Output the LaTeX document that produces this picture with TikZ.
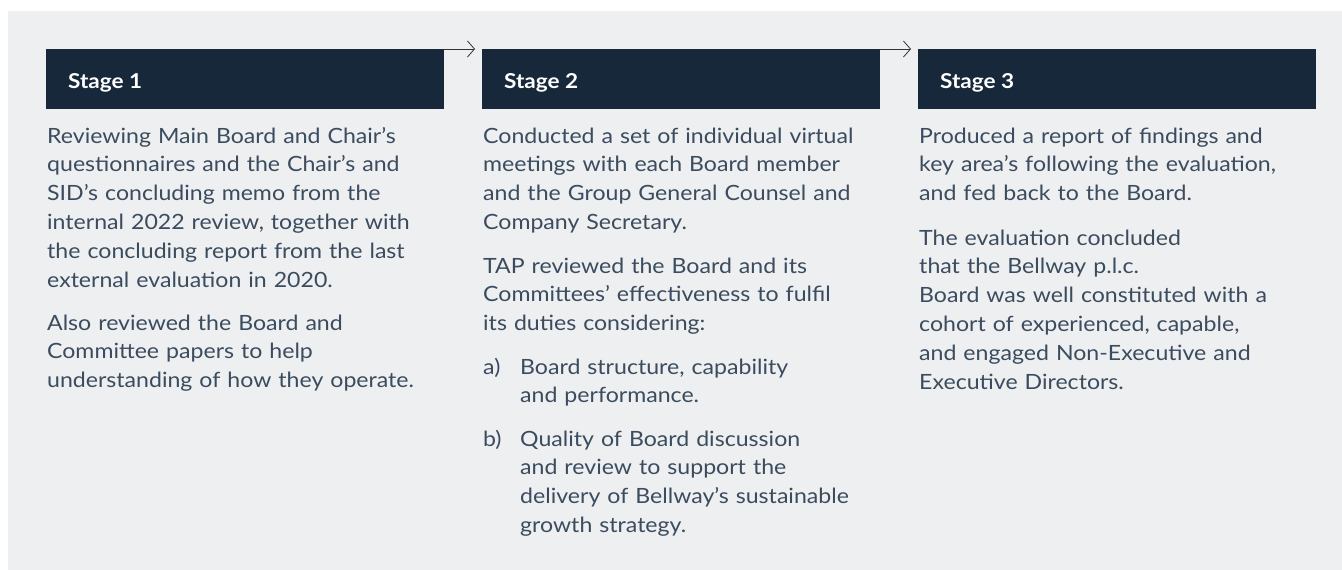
\documentclass[tikz,border=0pt]{standalone}
\usepackage{fontspec}
\setmainfont{Lato}[FakeStretch=1.1]
\usetikzlibrary{arrows.meta}
\definecolor{bgc}{HTML}{EEEFF1}
\definecolor{navy}{HTML}{16283A}
\definecolor{txt}{HTML}{3A4C5E}
\begin{document}
\begin{tikzpicture}[x=1pt,y=-1pt,
  hdr/.style={fill=navy, draw=none, minimum width=398pt, minimum height=60pt, inner sep=0pt, outer sep=0pt, anchor=north west},
  hlabel/.style={text=white, font=\fontsize{20.5}{22}\selectfont\bfseries, anchor=base west, inner sep=0pt},
  body/.style={text=txt, font=\fontsize{21}{28.8}\selectfont, anchor=base west, inner sep=0pt, text width=420pt, align=left},
  item/.style={body, text width=380pt},
  flow/.style={draw=black!80, line width=0.8pt, -{Straight Barb[length=7pt,width=16pt]}}]
\useasboundingbox (0,0) rectangle (1342,570);
\fill[white] (0,0) rectangle (1342,570);
\fill[bgc] (8,11) rectangle (1342,570);
% headers
\node[hdr] (h1) at (46,49) {};
\node[hdr] (h2) at (482,49) {};
\node[hdr] (h3) at (918,49) {};
\node[hlabel] (l1) at (68,88) {Stage 1};
\node[hlabel] (l2) at (504,88) {Stage 2};
\node[hlabel] (l3) at (940,88) {Stage 3};
% connectors
\coordinate (t1) at (475,49);
\coordinate (t2) at (911,49);
\draw[flow] (h1.north east) -- (t1);
\draw[flow] (h2.north east) -- (t2);
% column 1
\node[body] (p11) at (47,143) {Reviewing Main Board and Chair’s\\ questionnaires and the Chair’s and\\ SID’s concluding memo from the\\ internal 2022 review, together with\\ the concluding report from the last\\ external evaluation in 2020.};
\node[body] (p12) at (47,330) {Also reviewed the Board and\\ Committee papers to help\\ understanding of how they operate.};
% column 2
\node[body] (p21) at (483,143) {Conducted a set of individual virtual\\ meetings with each Board member\\ and the Group General Counsel and\\ Company Secretary.};
\node[body] (p22) at (483,273) {TAP reviewed the Board and its\\ Committees’ effectiveness to fulfil\\ its duties considering:};
\node[body, text width=40pt] (ma) at (483,374) {a)};
\node[item] (ia) at (520,374) {Board structure, capability\\ and performance.};
\node[body, text width=40pt] (mb) at (483,446) {b)};
\node[item] (ib) at (520,446) {Quality of Board discussion\\ and review to support the\\ delivery of Bellway’s sustainable\\ growth strategy.};
% column 3
\node[body] (p31) at (919,143) {Produced a report of findings and\\ key area’s following the evaluation,\\ and fed back to the Board.};
\node[body] (p32) at (919,245) {The evaluation concluded\\ that the Bellway p.l.c.\\ Board was well constituted with a\\ cohort of experienced, capable,\\ and engaged Non-Executive and\\ Executive Directors.};
\end{tikzpicture}
\end{document}
